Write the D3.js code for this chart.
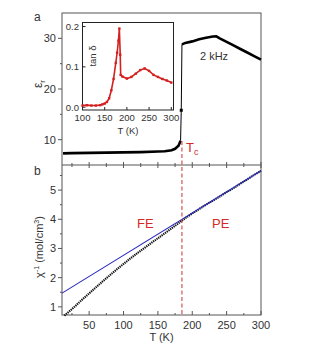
<!DOCTYPE html>
<html>
<head>
<meta charset="utf-8">
<script src="https://cdn.jsdelivr.net/npm/d3@7"></script>
<style>
    body { margin: 0; background: #fff; }
    text { font-family: "Liberation Sans", Arial, sans-serif; fill: #333; }
</style>
</head>
<body>
<script>
"use strict";

// permittivity at 2 kHz (panel a)
var epsT = [12, 25, 50, 75, 100, 125, 150, 160, 170, 175, 180, 183, 184, 185, 190, 200, 210, 220, 230, 235, 240, 250, 260, 270, 280, 290, 300];
var epsVal = [7.3, 7.35, 7.4, 7.45, 7.5, 7.55, 7.65, 7.7, 7.9, 8.2, 8.8, 9.8, 15.8, 28.8, 29.1, 29.4, 29.8, 30.1, 30.35, 30.4, 30.0, 29.3, 28.6, 27.9, 27.2, 26.5, 25.8];

// tan delta (inset)
var tanT = [100, 110, 120, 130, 140, 145, 150, 155, 160, 165, 170, 175, 178, 181, 183, 185, 186, 190, 200, 210, 220, 230, 240, 250, 260, 270, 280, 290, 300];
var tanVal = [0.004, 0.005, 0.004, 0.004, 0.005, 0.007, 0.009, 0.013, 0.022, 0.042, 0.07, 0.11, 0.135, 0.165, 0.195, 0.13, 0.08, 0.076, 0.071, 0.075, 0.083, 0.092, 0.096, 0.09, 0.08, 0.075, 0.07, 0.066, 0.061];

// inverse susceptibility (panel b)
var chiT = [14, 20, 30, 40, 50, 60, 70, 80, 90, 100, 110, 120, 130, 140, 150, 160, 170, 180, 190, 200, 210, 220, 230, 240, 250, 260, 270, 280, 290, 300];
var chiVal = [0.70, 0.82, 1.03, 1.25, 1.46, 1.67, 1.88, 2.08, 2.28, 2.47, 2.66, 2.84, 3.01, 3.18, 3.35, 3.52, 3.69, 3.86, 4.04, 4.2, 4.35, 4.5, 4.64, 4.78, 4.93, 5.07, 5.22, 5.37, 5.52, 5.66];

// Curie-Weiss fit line
var fitT = [10.5, 300];
var fitVal = [1.47, 5.66];

var tc = 185;
var xTicks = [50, 100, 150, 200, 250, 300];
var xMinor = [25, 75, 125, 175, 225, 275];
var epsTicks = [10, 20, 30];
var epsMinor = [15, 25];
var chiTicks = [1, 2, 3, 4, 5];
var chiMinor = [1.5, 2.5, 3.5, 4.5, 5.5];
var insetXTicks = [100, 150, 200, 250, 300];
var insetYTicks = [0, 0.1, 0.2];

var W = 310, H = 351;
var left = 62, right = 261, topA = 13, mid = 165, bottomB = 315;

var svg = d3.select("body").append("svg")
    .attr("width", W)
    .attr("height", H);

var x = d3.scaleLinear().domain([10.5, 300]).range([left, right]);
var yA = d3.scaleLinear().domain([5, 35]).range([mid, topA]);
var yB = d3.scaleLinear().domain([0.72, 5.86]).range([bottomB, mid]);

var frameColor = "#555";

// ---------- axes ----------
function hTicks(y, values, up, down) {
    svg.append("g").selectAll("line").data(values).enter().append("line")
        .attr("x1", function (d) { return x(d); })
        .attr("x2", function (d) { return x(d); })
        .attr("y1", y - up).attr("y2", y + down)
        .attr("stroke", frameColor).attr("stroke-width", 1);
}
function vTicks(scale, values, len) {
    svg.append("g").selectAll("line").data(values).enter().append("line")
        .attr("x1", left - len).attr("x2", left)
        .attr("y1", function (d) { return scale(d); })
        .attr("y2", function (d) { return scale(d); })
        .attr("stroke", frameColor).attr("stroke-width", 1);
}

// panel frames
svg.append("rect").attr("x", left).attr("y", topA)
    .attr("width", right - left).attr("height", bottomB - topA)
    .attr("fill", "none").attr("stroke", frameColor).attr("stroke-width", 1);
svg.append("line").attr("x1", left).attr("x2", right).attr("y1", mid).attr("y2", mid)
    .attr("stroke", frameColor).attr("stroke-width", 1);

// shared border ticks (cross the line), bottom ticks point in
hTicks(mid, xTicks, 3, 3);
hTicks(mid, xMinor, 2, 2);
hTicks(bottomB, xTicks, 4, 0);
hTicks(bottomB, xMinor, 2, 0);

vTicks(yA, epsTicks, 4);
vTicks(yA, epsMinor, 2);
vTicks(yB, chiTicks, 4);
vTicks(yB, chiMinor, 2);

// tick labels
svg.append("g").selectAll("text").data(epsTicks).enter().append("text")
    .attr("x", left - 6).attr("y", function (d) { return yA(d) + 4; })
    .attr("text-anchor", "end").style("font-size", "11px")
    .text(function (d) { return d; });
svg.append("g").selectAll("text").data(chiTicks).enter().append("text")
    .attr("x", left - 6).attr("y", function (d) { return yB(d) + 4; })
    .attr("text-anchor", "end").style("font-size", "11px")
    .text(function (d) { return d; });
svg.append("g").selectAll("text").data(xTicks).enter().append("text")
    .attr("x", function (d) { return x(d); }).attr("y", bottomB + 14)
    .attr("text-anchor", "middle").style("font-size", "11px")
    .text(function (d) { return d; });

// axis titles
svg.append("text").attr("x", (left + right) / 2).attr("y", 341)
    .attr("text-anchor", "middle").style("font-size", "11px").text("T (K)");

var epsLabel = svg.append("text")
    .attr("transform", "translate(42,84) rotate(-90)")
    .attr("text-anchor", "middle").style("font-size", "12px");
epsLabel.append("tspan").text("ε");
epsLabel.append("tspan").attr("dy", 3).style("font-size", "8px").text("r");

var chiLabel = svg.append("text")
    .attr("transform", "translate(43,247) rotate(-90)")
    .attr("text-anchor", "middle").style("font-size", "11px");
chiLabel.append("tspan").text("χ");
chiLabel.append("tspan").attr("dy", -4).style("font-size", "7px").text("-1");
chiLabel.append("tspan").attr("dy", 4).text(" (mol/cm");
chiLabel.append("tspan").attr("dy", -4).style("font-size", "7px").text("3");
chiLabel.append("tspan").attr("dy", 4).text(")");

svg.append("text").attr("x", 34).attr("y", 21).style("font-size", "12px").text("a");
svg.append("text").attr("x", 34).attr("y", 175).style("font-size", "12px").text("b");

// ---------- panel a: permittivity ----------
var epsData = epsT.map(function (t, i) { return { t: t, v: epsVal[i] }; });
var lineA = d3.line()
    .x(function (d) { return x(d.t); })
    .y(function (d) { return yA(d.v); });

// thin line through the jump, thick where points are dense
svg.append("path").datum(epsData)
    .attr("d", lineA).attr("fill", "none")
    .attr("stroke", "#000").attr("stroke-width", 1);
svg.append("path").datum(epsData.filter(function (d) { return d.t < 184; }))
    .attr("d", lineA).attr("fill", "none")
    .attr("stroke", "#000").attr("stroke-width", 2.6);
svg.append("path").datum(epsData.filter(function (d) { return d.t > 184; }))
    .attr("d", lineA).attr("fill", "none")
    .attr("stroke", "#000").attr("stroke-width", 2.6);
svg.append("rect").datum(epsData.filter(function (d) { return d.t === 184; })[0])
    .attr("x", function (d) { return x(d.t) - 1.5; })
    .attr("y", function (d) { return yA(d.v) - 1.5; })
    .attr("width", 3).attr("height", 3).attr("fill", "#000");

svg.append("text").attr("x", 200).attr("y", 60).style("font-size", "11px").text("2 kHz");

// ---------- panel b: inverse susceptibility ----------
var chiData = chiT.map(function (t, i) { return { t: t, v: chiVal[i] }; });
var lineB = d3.line()
    .x(function (d) { return x(d.t); })
    .y(function (d) { return yB(d.v); });

svg.append("path").datum(chiData)
    .attr("d", lineB).attr("fill", "none")
    .attr("stroke", "#111").attr("stroke-width", 2.1)
    .attr("stroke-dasharray", "1.3,0.8");

var fitData = fitT.map(function (t, i) { return { t: t, v: fitVal[i] }; });
svg.append("path").datum(fitData)
    .attr("d", lineB).attr("fill", "none")
    .attr("stroke", "#2b2bbf").attr("stroke-width", 1.1);

svg.append("text").attr("x", 137).attr("y", 228)
    .style("font-size", "13px").style("fill", "#d42a2a").text("FE");
svg.append("text").attr("x", 212).attr("y", 228)
    .style("font-size", "13px").style("fill", "#d42a2a").text("PE");

// Tc marker
svg.append("line")
    .attr("x1", x(tc)).attr("x2", x(tc))
    .attr("y1", 141).attr("y2", bottomB)
    .attr("stroke", "#c83232").attr("stroke-width", 1)
    .attr("stroke-dasharray", "4,2.5");
var tcLabel = svg.append("text").attr("x", x(tc) + 4).attr("y", 152)
    .style("font-size", "13px").style("fill", "#d42a2a");
tcLabel.append("tspan").text("T");
tcLabel.append("tspan").attr("dy", 3).style("font-size", "9px").text("c");

// ---------- inset: tan delta ----------
var ix = d3.scaleLinear().domain([100, 305]).range([82.5, 173.5]);
var iy = d3.scaleLinear().domain([-0.007, 0.21]).range([110, 22.5]);

svg.append("rect").attr("x", 82.5).attr("y", 22.5)
    .attr("width", 91).attr("height", 87.5)
    .attr("fill", "#fff").attr("stroke", "#222").attr("stroke-width", 1);

svg.append("g").selectAll("line").data(insetXTicks).enter().append("line")
    .attr("x1", function (d) { return ix(d); }).attr("x2", function (d) { return ix(d); })
    .attr("y1", 110).attr("y2", 107).attr("stroke", "#222");
svg.append("g").selectAll("line").data(insetYTicks).enter().append("line")
    .attr("x1", 82.5).attr("x2", 85.5)
    .attr("y1", function (d) { return iy(d); }).attr("y2", function (d) { return iy(d); })
    .attr("stroke", "#222");

svg.append("g").selectAll("text").data(insetXTicks).enter().append("text")
    .attr("x", function (d) { return ix(d); }).attr("y", 121)
    .attr("text-anchor", "middle").style("font-size", "9.5px")
    .text(function (d) { return d; });
svg.append("g").selectAll("text").data(insetYTicks).enter().append("text")
    .attr("x", 79).attr("y", function (d) { return iy(d) + 3.5; })
    .attr("text-anchor", "end").style("font-size", "9.5px")
    .text(function (d) { return d3.format(".1f")(d); });
svg.append("text").attr("x", 128).attr("y", 134)
    .attr("text-anchor", "middle").style("font-size", "9.5px").text("T (K)");
svg.append("text").attr("transform", "translate(96,56) rotate(-90)")
    .attr("text-anchor", "middle").style("font-size", "9.5px").text("tan δ");

var tanData = tanT.map(function (t, i) { return { t: t, v: tanVal[i] }; });
var lineI = d3.line()
    .x(function (d) { return ix(d.t); })
    .y(function (d) { return iy(d.v); });
svg.append("path").datum(tanData)
    .attr("d", lineI).attr("fill", "none")
    .attr("stroke", "#d42020").attr("stroke-width", 1.6);
svg.append("g").selectAll("rect").data(tanData).enter().append("rect")
    .attr("x", function (d) { return ix(d.t) - 1.2; })
    .attr("y", function (d) { return iy(d.v) - 1.2; })
    .attr("width", 2.4).attr("height", 2.4).attr("fill", "#d42020");
</script>
</body>
</html>
